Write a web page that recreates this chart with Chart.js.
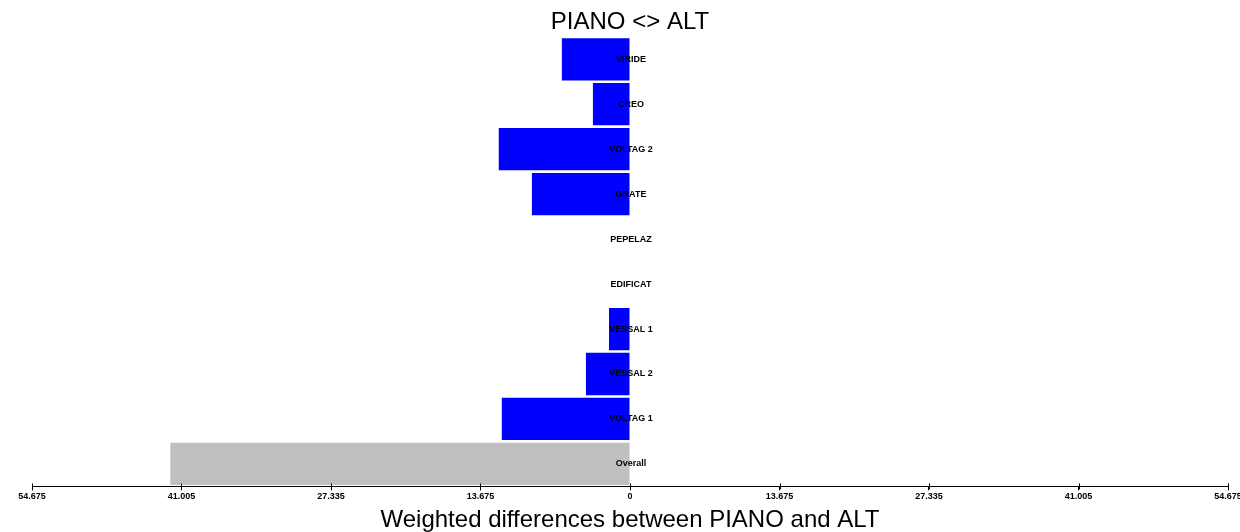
<!DOCTYPE html>
<html>
<head>
<meta charset="utf-8">
<script src="https://cdn.jsdelivr.net/npm/chart.js@4/dist/chart.umd.min.js"></script>
<style>
  html, body { margin: 0; padding: 0; background: #fff; }
  #wrap { width: 1240px; height: 532px; }
</style>
</head>
<body>
<div id="wrap"><canvas id="diffChart" width="1240" height="532"></canvas></div>
<script>
const categories = ["VIRIDE", "CREO", "VOLTAG 2", "GRATE", "PEPELAZ", "EDIFICAT", "VESSAL 1", "VESSAL 2", "VOLTAG 1", "Overall"];
const diffValues = [-6.23, -3.39, -12.0, -8.97, 0, 0, -1.92, -4.03, -11.72, -42.03];
const barColors = ["#0000ff", "#0000ff", "#0000ff", "#0000ff", "#0000ff", "#0000ff", "#0000ff", "#0000ff", "#0000ff", "#c0c0c0"];
const tickValues = [-54.675, -41.00625, -27.3375, -13.66875, 0, 13.66875, 27.3375, 41.00625, 54.675];
const tickLabels = ["54.675", "41.005", "27.335", "13.675", "0", "13.675", "27.335", "41.005", "54.675"];

// category names written on the zero line
const zeroLabels = {
  id: "zeroLabels",
  afterDatasetsDraw(chart) {
    const ctx = chart.ctx;
    const xs = chart.scales.x, ys = chart.scales.y;
    const x0 = xs.getPixelForValue(0);
    ctx.save();
    ctx.font = "bold 9px Arial, 'Liberation Sans', sans-serif";
    ctx.fillStyle = "#000";
    ctx.textAlign = "center";
    ctx.textBaseline = "middle";
    chart.data.labels.forEach((lab, i) => {
      ctx.fillText(lab, x0 + 1, ys.getPixelForValue(i));
    });
    ctx.restore();
  }
};

// little tick marks crossing the axis line
const crossTicks = {
  id: "crossTicks",
  afterDraw(chart) {
    const ctx = chart.ctx;
    const xs = chart.scales.x;
    const yb = chart.chartArea.bottom;
    ctx.save();
    ctx.strokeStyle = "#000";
    ctx.lineWidth = 1;
    tickValues.forEach((v) => {
      const px = Math.round(xs.getPixelForValue(v)) + 0.5;
      ctx.beginPath();
      ctx.moveTo(px, yb - 3);
      ctx.lineTo(px, yb + 3);
      ctx.stroke();
    });
    ctx.restore();
  }
};

new Chart(document.getElementById("diffChart"), {
  type: "bar",
  data: {
    labels: categories,
    datasets: [
      {
        data: diffValues,
        backgroundColor: barColors,
        borderWidth: 0,
        barPercentage: 0.94,
        categoryPercentage: 1.0,
      },
    ],
  },
  options: {
    indexAxis: "y",
    responsive: false,
    maintainAspectRatio: false,
    animation: false,
    layout: { padding: { left: 32, right: 12, top: 0, bottom: 0 } },
    plugins: {
      legend: { display: false },
      tooltip: { enabled: false },
      title: {
        display: true,
        text: "PIANO <> ALT",
        color: "#000",
        font: { family: "Arial, 'Liberation Sans', sans-serif", size: 24, weight: "normal" },
        padding: { top: 8, bottom: 0 },
      },
    },
    scales: {
      x: {
        min: -54.675,
        max: 54.675,
        afterBuildTicks: (axis) => {
          axis.ticks = tickValues.map((v) => ({ value: v }));
        },
        afterFit: (axis) => {
          axis.paddingLeft = 0;
          axis.paddingRight = 0;
        },
        ticks: {
          autoSkip: false,
          maxRotation: 0,
          color: "#000",
          padding: 1,
          font: { family: "Arial, 'Liberation Sans', sans-serif", size: 9, weight: "bold" },
          callback: (v, i) => tickLabels[i],
        },
        grid: { drawOnChartArea: false, drawTicks: true, tickLength: 4, color: "#000" },
        border: { display: true, color: "#000", width: 1 },
        title: {
          display: true,
          text: "Weighted differences between PIANO and ALT",
          color: "#000",
          font: { family: "Arial, 'Liberation Sans', sans-serif", size: 24, weight: "normal" },
          padding: { top: 3, bottom: -3 },
        },
      },
      y: {
        display: false,
        offset: true,
      },
    },
  },
  plugins: [zeroLabels, crossTicks],
});
</script>
</body>
</html>
